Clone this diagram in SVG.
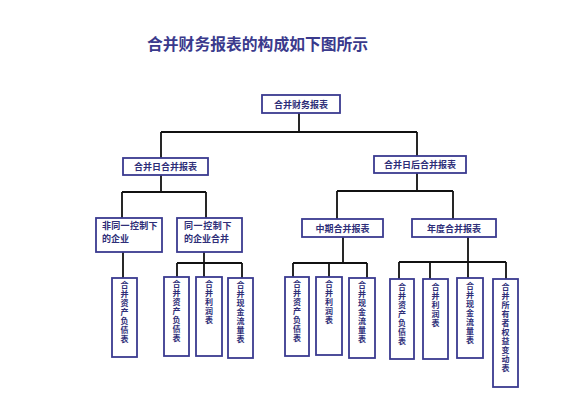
<svg xmlns="http://www.w3.org/2000/svg" width="563" height="412" viewBox="0 0 563 412">
<style>
.box{fill:#fff;stroke:#3a3a90;stroke-width:1.8}
.t{font-family:"Noto Sans CJK SC","Noto Sans",sans-serif;font-weight:bold;font-size:9px;fill:#2e2e78}
.v{font-size:8px}
.c{text-anchor:middle}
.ln{stroke:#111;stroke-width:1.8;fill:none}
</style>
<rect width="563" height="412" fill="#fff"/>
<text x="147" y="50" style="font-family:'Noto Sans CJK SC',sans-serif;font-weight:bold;font-size:15.8px;fill:#3a3a8c">合并财务报表的构成如下图所示</text>
<g id="connectors">
<path class="ln" d="M299 113V132M161 132H417M161 132V158M417 132V156"/>
<path class="ln" d="M161 175V192M122 192H206M122 192V218M206 192V218"/>
<path class="ln" d="M417 173V191M337 191H453M337 191V219M453 191V219"/>
<path class="ln" d="M123 252V278"/>
<path class="ln" d="M204 252V263M177 263H242M177 263V277M204 263V277M242 263V278"/>
<path class="ln" d="M343 237V263M293 263H367M293 263V277M329 263V277M367 263V278"/>
<path class="ln" d="M468 237V262M399 262H506M399 262V279M430 262V279M468 262V278M506 262V279"/>
</g>
<g id="root"><rect class="box" x="262" y="95" width="78" height="18"/><text class="t c" x="301" y="107.5">合并财务报表</text></g>
<g id="n_day"><rect class="box" x="123" y="158" width="85" height="17"/><text class="t c" x="165.5" y="170">合并日合并报表</text></g>
<g id="n_after"><rect class="box" x="374" y="156" width="92" height="17"/><text class="t c" x="420" y="168">合并日后合并报表</text></g>
<g id="n_nonsame"><rect class="box" x="96" y="218" width="66" height="34"/><text class="t" x="102" y="229" letter-spacing="0.3">非同一控制下</text><text class="t" x="102" y="241.5">的企业</text></g>
<g id="n_same"><rect class="box" x="177" y="218" width="65" height="34"/><text class="t" x="184" y="229" letter-spacing="0.6">同一控制下</text><text class="t" x="184" y="241.5">的企业合并</text></g>
<g id="n_interim"><rect class="box" x="302" y="219" width="81" height="18"/><text class="t c" x="342.5" y="231.5">中期合并报表</text></g>
<g id="n_annual"><rect class="box" x="412" y="219" width="84" height="18"/><text class="t c" x="454" y="231.5">年度合并报表</text></g>

<g id="a1"><rect class="box" x="112" y="278" width="25" height="79"/><text class="t v c" x="124.5" y="288"><tspan x="124.5">合</tspan><tspan x="124.5" dy="9">并</tspan><tspan x="124.5" dy="9">资</tspan><tspan x="124.5" dy="9">产</tspan><tspan x="124.5" dy="9">负</tspan><tspan x="124.5" dy="9">债</tspan><tspan x="124.5" dy="9">表</tspan></text></g>

<g id="b1"><rect class="box" x="164" y="277" width="25" height="79"/><text class="t v c" x="176.5" y="287"><tspan x="176.5">合</tspan><tspan x="176.5" dy="9">并</tspan><tspan x="176.5" dy="9">资</tspan><tspan x="176.5" dy="9">产</tspan><tspan x="176.5" dy="9">负</tspan><tspan x="176.5" dy="9">债</tspan><tspan x="176.5" dy="9">表</tspan></text></g>
<g id="b2"><rect class="box" x="196" y="277" width="26" height="79"/><text class="t v c" x="209" y="287"><tspan x="209">合</tspan><tspan x="209" dy="9">并</tspan><tspan x="209" dy="9">利</tspan><tspan x="209" dy="9">润</tspan><tspan x="209" dy="9">表</tspan></text></g>
<g id="b3"><rect class="box" x="228" y="278" width="25" height="80"/><text class="t v c" x="240.5" y="288"><tspan x="240.5">合</tspan><tspan x="240.5" dy="9">并</tspan><tspan x="240.5" dy="9">现</tspan><tspan x="240.5" dy="9">金</tspan><tspan x="240.5" dy="9">流</tspan><tspan x="240.5" dy="9">量</tspan><tspan x="240.5" dy="9">表</tspan></text></g>

<g id="c1"><rect class="box" x="285" y="277" width="24" height="79"/><text class="t v c" x="297" y="287"><tspan x="297">合</tspan><tspan x="297" dy="9">并</tspan><tspan x="297" dy="9">资</tspan><tspan x="297" dy="9">产</tspan><tspan x="297" dy="9">负</tspan><tspan x="297" dy="9">债</tspan><tspan x="297" dy="9">表</tspan></text></g>
<g id="c2"><rect class="box" x="316" y="277" width="26" height="78"/><text class="t v c" x="329" y="287"><tspan x="329">合</tspan><tspan x="329" dy="9">并</tspan><tspan x="329" dy="9">利</tspan><tspan x="329" dy="9">润</tspan><tspan x="329" dy="9">表</tspan></text></g>
<g id="c3"><rect class="box" x="349" y="278" width="26" height="80"/><text class="t v c" x="362" y="288"><tspan x="362">合</tspan><tspan x="362" dy="9">并</tspan><tspan x="362" dy="9">现</tspan><tspan x="362" dy="9">金</tspan><tspan x="362" dy="9">流</tspan><tspan x="362" dy="9">量</tspan><tspan x="362" dy="9">表</tspan></text></g>

<g id="d1"><rect class="box" x="390" y="279" width="24" height="80"/><text class="t v c" x="402" y="290"><tspan x="402">合</tspan><tspan x="402" dy="9">并</tspan><tspan x="402" dy="9">资</tspan><tspan x="402" dy="9">产</tspan><tspan x="402" dy="9">负</tspan><tspan x="402" dy="9">债</tspan><tspan x="402" dy="9">表</tspan></text></g>
<g id="d2"><rect class="box" x="423" y="279" width="25" height="80"/><text class="t v c" x="435.5" y="290"><tspan x="435.5">合</tspan><tspan x="435.5" dy="9">并</tspan><tspan x="435.5" dy="9">利</tspan><tspan x="435.5" dy="9">润</tspan><tspan x="435.5" dy="9">表</tspan></text></g>
<g id="d3"><rect class="box" x="457" y="278" width="26" height="80"/><text class="t v c" x="470" y="289"><tspan x="470">合</tspan><tspan x="470" dy="9">并</tspan><tspan x="470" dy="9">现</tspan><tspan x="470" dy="9">金</tspan><tspan x="470" dy="9">流</tspan><tspan x="470" dy="9">量</tspan><tspan x="470" dy="9">表</tspan></text></g>
<g id="d4"><rect class="box" x="493" y="279" width="25" height="108"/><text class="t v c" x="505.5" y="290"><tspan x="505.5">合</tspan><tspan x="505.5" dy="9">并</tspan><tspan x="505.5" dy="9">所</tspan><tspan x="505.5" dy="9">有</tspan><tspan x="505.5" dy="9">者</tspan><tspan x="505.5" dy="9">权</tspan><tspan x="505.5" dy="9">益</tspan><tspan x="505.5" dy="9">变</tspan><tspan x="505.5" dy="9">动</tspan><tspan x="505.5" dy="9">表</tspan></text></g>
</svg>
